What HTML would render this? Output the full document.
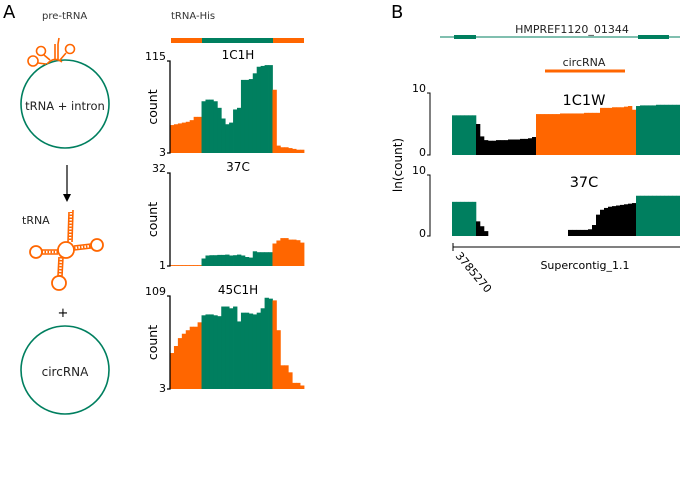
<!DOCTYPE html>
<html><head><meta charset="utf-8"><style>
body{margin:0;background:#fff;}
svg{display:block;font-family:"DejaVu Sans","Liberation Sans",sans-serif;}
</style></head><body>
<svg id="fig" width="680" height="500" viewBox="0 0 680 500">
<rect width="680" height="500" fill="#fff"/>
<text x="3" y="18" font-size="18">A</text>
<text x="391" y="18" font-size="18">B</text>
<text x="42" y="19" font-size="10" fill="#333">pre-tRNA</text>
<text x="171" y="19" font-size="10" fill="#333">tRNA-His</text>
<g>
<circle cx="65" cy="104" r="44" fill="none" stroke="#007f5f" stroke-width="1.6"/>
<text x="65" y="110" font-size="11.5" text-anchor="middle" fill="#222">tRNA + intron</text>
<g stroke="#ff6600" fill="none" stroke-width="1.6">
<circle cx="33" cy="61" r="5"/><circle cx="41" cy="51" r="4.5"/><circle cx="70" cy="49" r="4.5"/>
<path d="M38 63 L46 64 M44 55 L50 60 M66 53 L60 60 M55 44 L55 60 M58 44 L58 60 M58 44 L59 38 M47 64 Q54 56 62 62"/>
</g></g>
<g><line x1="67" y1="165" x2="67" y2="196" stroke="#000" stroke-width="1.2"/><path d="M63 194 L67 202 L71 194 Z" fill="#000"/></g>
<text x="22" y="224" font-size="11" fill="#222">tRNA</text>
<g stroke="#ff6600" fill="none" stroke-width="1.8">
<circle cx="66" cy="250" r="8"/><circle cx="97" cy="245" r="6"/><circle cx="36" cy="252" r="6"/><circle cx="59" cy="283" r="7"/>
<path d="M68 242 L69 212 M72 242 L73 210 M74 246 L91 244 M74 250 L91 248 M58 250 L42 250 M58 254 L42 254 M59 257 L58 276 M63 257 L62 276" stroke-width="1.6"/>
<path d="M70 240 L71 212 M74 248 L91 246 M58 252 L42 252 M61 257 L60 276" stroke-width="2.5" stroke-dasharray="1.5 1.5"/>
</g>
<text x="63" y="317" font-size="13" text-anchor="middle">+</text>
<g>
<circle cx="65" cy="370" r="44" fill="none" stroke="#007f5f" stroke-width="1.6"/>
<text x="65" y="376" font-size="12" text-anchor="middle" fill="#222">circRNA</text>
</g>
<g id="pa">
<rect x="171" y="38" width="31" height="5" fill="#ff6600"/>
<rect x="202" y="38" width="71" height="5" fill="#007f5f"/>
<rect x="273" y="38" width="31" height="5" fill="#ff6600"/>
</g>
<g id="pb">
<line x1="440" y1="37" x2="680" y2="37" stroke="#007f5f" stroke-width="1"/>
<rect x="454" y="35" width="22" height="4" fill="#007f5f"/>
<rect x="638" y="35" width="31" height="4" fill="#007f5f"/>
<text x="572" y="33" font-size="11" text-anchor="middle" fill="#222">HMPREF1120_01344</text>
<line x1="545" y1="71" x2="625" y2="71" stroke="#ff6600" stroke-width="3"/>
<text x="584" y="66" font-size="11" text-anchor="middle" fill="#222">circRNA</text>
<text transform="translate(402,165) rotate(-90)" font-size="12" text-anchor="middle">ln(count)</text>
<line x1="453" y1="247" x2="680" y2="247" stroke="#000"/>
<line x1="453" y1="243" x2="453" y2="251" stroke="#000"/>
<text transform="translate(455,256) rotate(50)" font-size="11">3785270</text>
<text x="585" y="269" font-size="11" text-anchor="middle">Supercontig_1.1</text>
</g>
</svg>
<script>
// Panel A data (34 bins across tRNA-His locus)
const aNames = ["1C1H", "37C", "45C1H"];
const aTickMax = [115, 32, 109];
const aTickMin = [3, 1, 3];
const a1 = [37,38,39,40,41,43,47,47, 66,68,68,66,58,45,38,40,56,58,92,92,93,100,108,109,110,110, 80,12,10,10,9,8,7,7];
const a2 = [1.3,1.3,1.3,1.3,1.3,1.3,1.3,1.3, 3.5,4.5,4.6,4.6,4.7,4.7,4.8,4.5,4.6,4.8,4.5,4,3.8,5.9,5.6,5.6,5.6,5.6, 8.5,9.5,10.3,10.3,9.8,9.8,9.6,8.8];
const a3 = [44,52,61,66,70,74,74,79, 87,88,88,87,86,97,97,95,97,80,90,90,89,88,90,95,107,106, 104,70,30,30,22,10,10,7];
// Panel B data (57 bins, ln(count))
const bNames = ["1C1W", "37C"];
const bTicks = [0, 10];
const b1 = [6.4,6.4,6.4,6.4,6.4,6.4, 5.0,3.0,2.4,2.3,2.3,2.4,2.4,2.4,2.5,2.5,2.5,2.6,2.6,2.7,2.9, 6.6,6.6,6.6,6.6,6.6,6.6,6.7,6.7,6.7,6.7,6.7,6.7,6.8,6.8,6.8,6.8, 7.6,7.6,7.6,7.7,7.7,7.7,7.8,7.9, 7.3, 7.9,8.0,8.0,8.0,8.0,8.1,8.1,8.1,8.1,8.1,8.1];
const b2 = [5.6,5.6,5.6,5.6,5.6,5.6, 2.4,1.6,0.8, 0,0,0,0,0,0,0,0,0,0,0,0,0,0,0,0,0,0,0,0, 1.0,1.0,1.0,1.0,1.0,1.1,1.8, 3.5,4.3,4.6,4.8,4.9,5.0,5.1,5.2,5.3,5.4, 6.6,6.6,6.6,6.6,6.6,6.6,6.6,6.6,6.6,6.6,6.6];

const NS = "http://www.w3.org/2000/svg";
function mk(tag, attrs, parent){const e=document.createElementNS(NS,tag);for(const k in attrs)e.setAttribute(k,attrs[k]);parent.appendChild(e);return e;}
const GREEN="#007f5f", ORANGE="#ff6600";

const pa=document.getElementById('pa');
const aData=[a1,a2,a3];
const aTop=[61,173,296], aBot=[153,266,389];
aData.forEach((vals,k)=>{
  const g=mk('g',{},pa);
  
  
  const x0=170,x1=304,n=vals.length,w=(x1-x0)/n;
  const lo=aTickMin[k],hi=aTickMax[k];
  const ys=v=>aBot[k]-(v-lo)/(hi-lo)*(aBot[k]-aTop[k]);
  vals.forEach((v,i)=>{
    const x=x0+i*w, cx=x+w/2;
    const col=(cx>202&&cx<272)?GREEN:ORANGE;
    const y=ys(Math.max(v,lo));
    const r=mk('rect',{x:x,y:y,width:w+0.4,height:aBot[k]-y,fill:col},g);
    
    
  });
  const ax=mk('path',{d:`M${x0-3} ${aTop[k]} L${x0} ${aTop[k]} L${x0} ${aBot[k]} L${x0-3} ${aBot[k]}`,stroke:'#000',fill:'none','stroke-width':1.3},g);
  
  
  const t1=mk('text',{x:x0-4,y:aTop[k]-1,'font-size':11,'text-anchor':'end'},g);t1.textContent=hi;
  
  
  const t2=mk('text',{x:x0-4,y:aBot[k]+3,'font-size':11,'text-anchor':'end'},g);t2.textContent=lo;
  
  
  const tt=mk('text',{x:238,y:aTop[k]-2,'font-size':12,'text-anchor':'middle'},g);tt.textContent=aNames[k];
  
  
  const yl=mk('text',{transform:`translate(157,${(aTop[k]+aBot[k])/2}) rotate(-90)`,'font-size':12.5,'text-anchor':'middle'},g);yl.textContent='count';
  
  
});

const pb=document.getElementById('pb');
const bData=[b1,b2];
const bTop=[93,175], bBot=[155,236];
bData.forEach((vals,k)=>{
  const g=mk('g',{},pb);
  
  
  const x0=452,w=4;
  const ys=v=>bBot[k]-(v-bTicks[0])/(bTicks[1]-bTicks[0])*(bBot[k]-bTop[k]);
  vals.forEach((v,i)=>{
    if(v<=0)return;
    const x=x0+i*w, cx=x+w/2;
    let col;
    if(cx<476||cx>636)col=GREEN;
    else if(cx>536&&k===0)col=ORANGE;
    else col="#000";
    const y=ys(v);
    const r=mk('rect',{x:x,y:y,width:w+0.3,height:bBot[k]-y,fill:col},g);
    
    
  });
  const ax=mk('path',{d:`M427 ${bTop[k]} L430 ${bTop[k]} L430 ${bBot[k]} L427 ${bBot[k]}`,stroke:'#000',fill:'none','stroke-width':1},g);
  
  
  const t1=mk('text',{x:426,y:bTop[k]-1,'font-size':11,'text-anchor':'end'},g);t1.textContent=bTicks[1];
  
  
  const t2=mk('text',{x:426,y:bBot[k]+1,'font-size':11,'text-anchor':'end'},g);t2.textContent=bTicks[0];
  
  
  const tt=mk('text',{x:584,y:bTop[k]+12,'font-size':14.5,'text-anchor':'middle'},g);tt.textContent=bNames[k];
  
  
});
</script>
</body></html>
